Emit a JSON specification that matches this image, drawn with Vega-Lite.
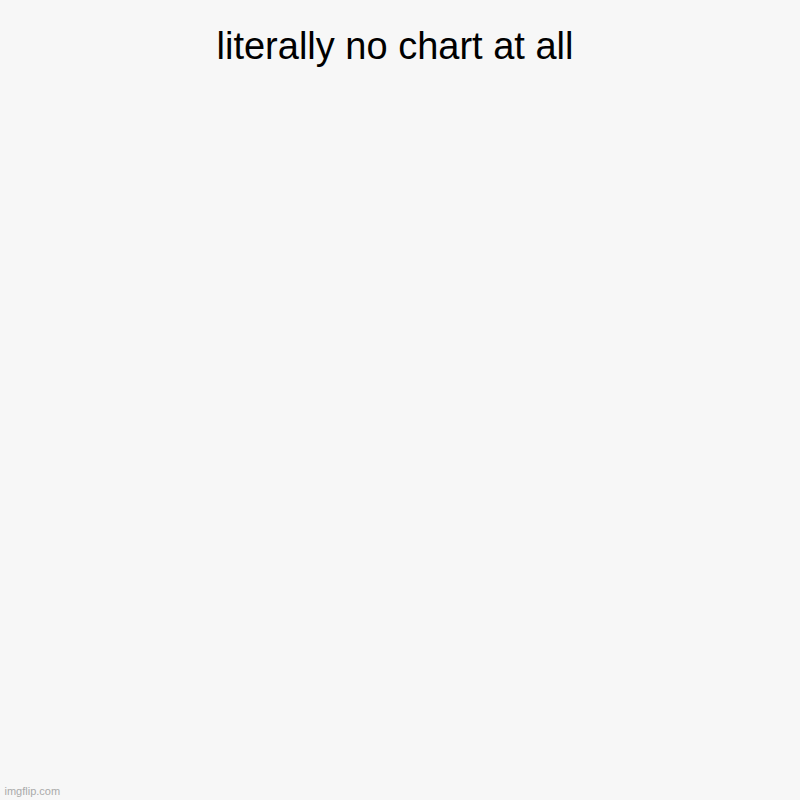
{
  "$schema": "https://vega.github.io/schema/vega-lite/v6.json",
  "description": "An empty imgflip chart: only a title and the site mark.",
  "autosize": {"type": "fit", "contains": "padding"},
  "width": 800,
  "height": 800,
  "padding": {"top": 29, "left": 4, "right": 4, "bottom": 4},
  "background": "#f7f7f7",
  "title": {
    "text": "literally no chart at all",
    "font": "Liberation Sans",
    "fontSize": 38,
    "fontWeight": "normal",
    "color": "#000000",
    "anchor": "middle",
    "frame": "group",
    "offset": 0,
    "dx": -5
  },
  "data": {"values": []},
  "mark": {"type": "point", "opacity": 0},
  "encoding": {
    "x": {
      "field": "value",
      "type": "quantitative",
      "axis": {
        "title": "imgflip.com",
        "titleFont": "Liberation Sans",
        "titleFontSize": 11,
        "titleFontWeight": "normal",
        "titleColor": "#aaaaaa",
        "titleAnchor": "start",
        "titleAlign": "left",
        "titlePadding": 0,
        "domain": false,
        "ticks": false,
        "labels": false,
        "grid": false
      }
    }
  },
  "config": {"view": {"stroke": null}}
}
